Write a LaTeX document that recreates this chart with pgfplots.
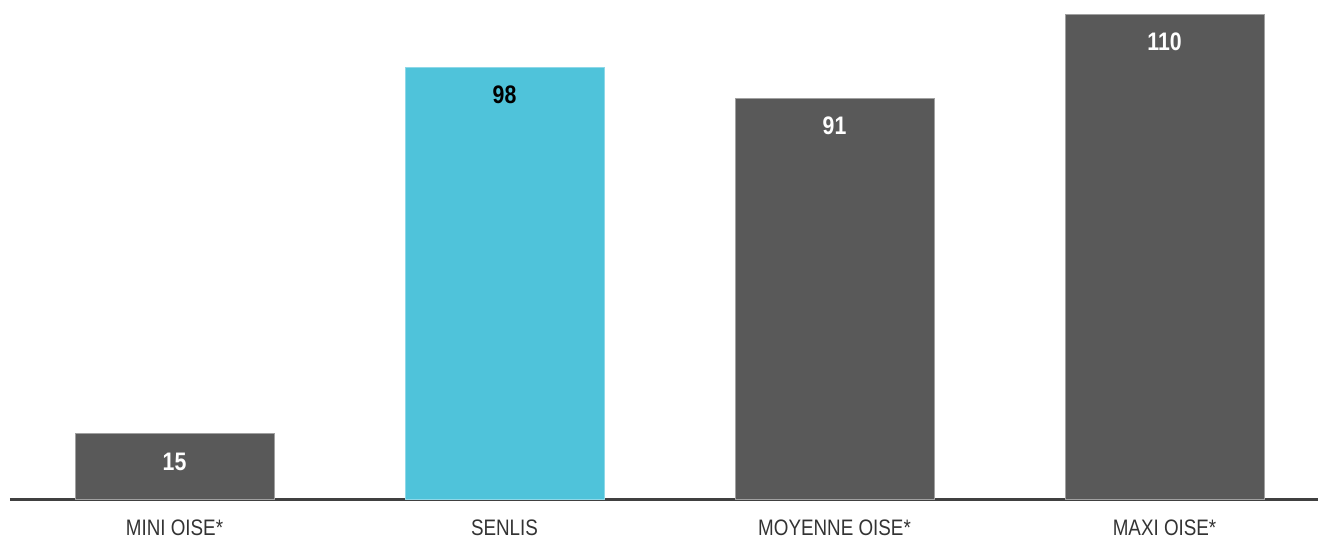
\documentclass[border=0pt]{standalone}
\usepackage{pgfplots}
\pgfplotsset{compat=1.18}
\usepackage{fontspec}
\setmainfont{Liberation Sans}[FakeStretch=0.84]
\definecolor{barGray}{HTML}{595959}
\definecolor{barEdge}{HTML}{A0A0A0}
\definecolor{barCyan}{HTML}{4FC3DA}
\definecolor{cyanEdge}{HTML}{8ED8E8}
\definecolor{axisGray}{HTML}{404040}
\definecolor{lblGray}{HTML}{333333}
\begin{document}
\begin{tikzpicture}
\useasboundingbox (-7.5pt,-30.75pt) rectangle (981pt,375pt);
\begin{axis}[
  at={(0,0)}, anchor=south west,
  scale only axis,
  width=981pt, height=375pt,
  xmin=-0.4985, xmax=3.465,
  ymin=0, ymax=113.2,
  axis x line=bottom,
  axis y line=none,
  x axis line style={-, line width=2.25pt, color=axisGray},
  xtick={0,1,2,3},
  xticklabels={MINI OISE*, SENLIS, MOYENNE OISE*, MAXI OISE*},
  major tick length=0pt,
  xticklabel style={anchor=base, yshift=-26.5pt, text=lblGray, font=\fontsize{16.8}{19}\selectfont},
  /pgf/number format/assume math mode=true,
  ybar, bar width=149.25pt, bar shift=0pt,
  nodes near coords,
  clip=false,
]
\addplot[fill=barGray, draw=barEdge, line width=0.75pt,
  nodes near coords style={anchor=center, yshift=-21pt, text=white, font=\fontsize{19}{22}\selectfont\bfseries}]
  coordinates {(0,15) (2,91) (3,110)};
\addplot[fill=barCyan, draw=cyanEdge, line width=0.75pt,
  nodes near coords style={anchor=center, yshift=-21pt, text=black, font=\fontsize{19}{22}\selectfont\bfseries}]
  coordinates {(1,98)};
\end{axis}
\end{tikzpicture}
\end{document}
